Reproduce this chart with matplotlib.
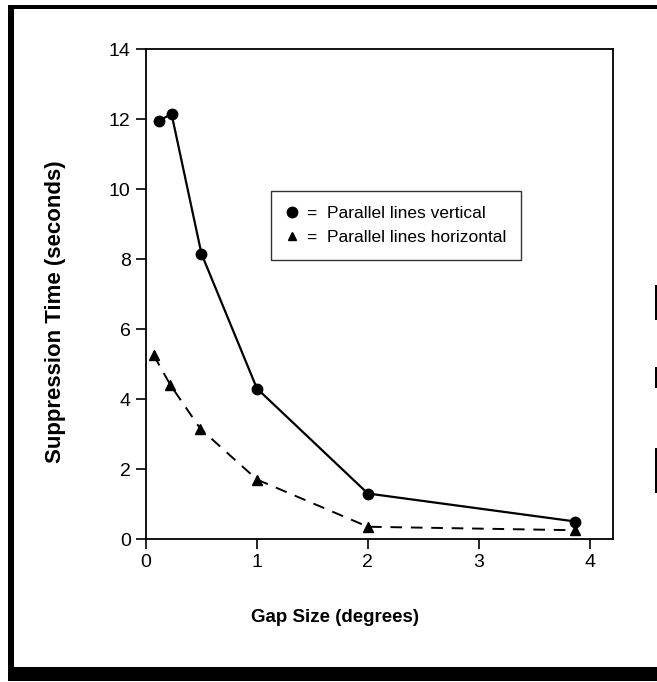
import matplotlib
matplotlib.use("Agg")
import matplotlib.pyplot as plt
from matplotlib.patches import Rectangle
from matplotlib.lines import Line2D

# ---- data ----
vert_x = [0.12, 0.23, 0.5, 1.0, 2.0, 3.87]
vert_y = [11.95, 12.15, 8.15, 4.3, 1.3, 0.5]
horiz_x = [0.07, 0.22, 0.49, 1.0, 2.0, 3.87]
horiz_y = [5.25, 4.4, 3.15, 1.7, 0.35, 0.25]
x_ticks = [0, 1, 2, 3, 4]
y_ticks = [0, 2, 4, 6, 8, 10, 12, 14]
label_vert = "=  Parallel lines vertical"
label_horiz = "=  Parallel lines horizontal"
x_label = "Gap Size (degrees)"
y_label = "Suppression Time (seconds)"

plt.rcParams['font.family'] = ['Liberation Sans', 'DejaVu Sans']

W, H = 657, 682
fig = plt.figure(figsize=(W / 100, H / 100), dpi=100)

def fx(px):
    return px / W

def fy(py):
    return 1 - py / H

left, right, top, bottom = 146, 613, 49, 539
ax = fig.add_axes([fx(left), fy(bottom), fx(right) - fx(left), fy(top) - fy(bottom)])

ax.plot(vert_x, vert_y, color='black', lw=1.6, marker='o', ms=7.5,
        markerfacecolor='black', markeredgecolor='black')
ax.plot(horiz_x, horiz_y, color='black', lw=1.4, ls=(0, (6, 4.5)), marker='^', ms=7,
        markerfacecolor='black', markeredgecolor='black')

ax.set_xlim(0, 4.21)
ax.set_ylim(0, 14)
ax.set_xticks(x_ticks)
ax.set_yticks(y_ticks)
ax.tick_params(direction='out', length=7, width=1.2, labelsize=14, pad=4, colors='black')
for s in ax.spines.values():
    s.set_linewidth(1.3)

# legend
handles = [Line2D([], [], ls='none', marker='o', ms=7.5, color='black'),
           Line2D([], [], ls='none', marker='^', ms=6, color='black')]
leg = ax.legend(handles, [label_vert, label_horiz], loc='upper left',
                bbox_to_anchor=(fx(271), fy(191)), bbox_transform=fig.transFigure,
                frameon=True, fancybox=False, edgecolor='black', fontsize=12.5,
                handlelength=0.7, handletextpad=0.5, borderpad=0.85, labelspacing=0.5,
                borderaxespad=0)
leg.get_frame().set_linewidth(1.0)

fig.text(fx(335), fy(617), x_label, ha='center', va='center', fontsize=13.5, fontweight='bold')
fig.text(fx(55), fy(312), y_label, ha='center', va='center', rotation=90, fontsize=16,
         fontweight='bold')

# scanned page border
def rect_px(x0, y0, x1, y1):
    fig.add_artist(Rectangle((fx(x0), fy(y1)), fx(x1) - fx(x0), fy(y0) - fy(y1),
                             transform=fig.transFigure, color='black', lw=0))

rect_px(12, 5, 657, 9)
rect_px(8, 5, 14, 681)
rect_px(8, 667, 657, 681)
rect_px(655, 285, 657, 320)
rect_px(655, 367, 657, 388)
rect_px(655, 448, 657, 493)

fig.savefig("out.png", dpi=100)
